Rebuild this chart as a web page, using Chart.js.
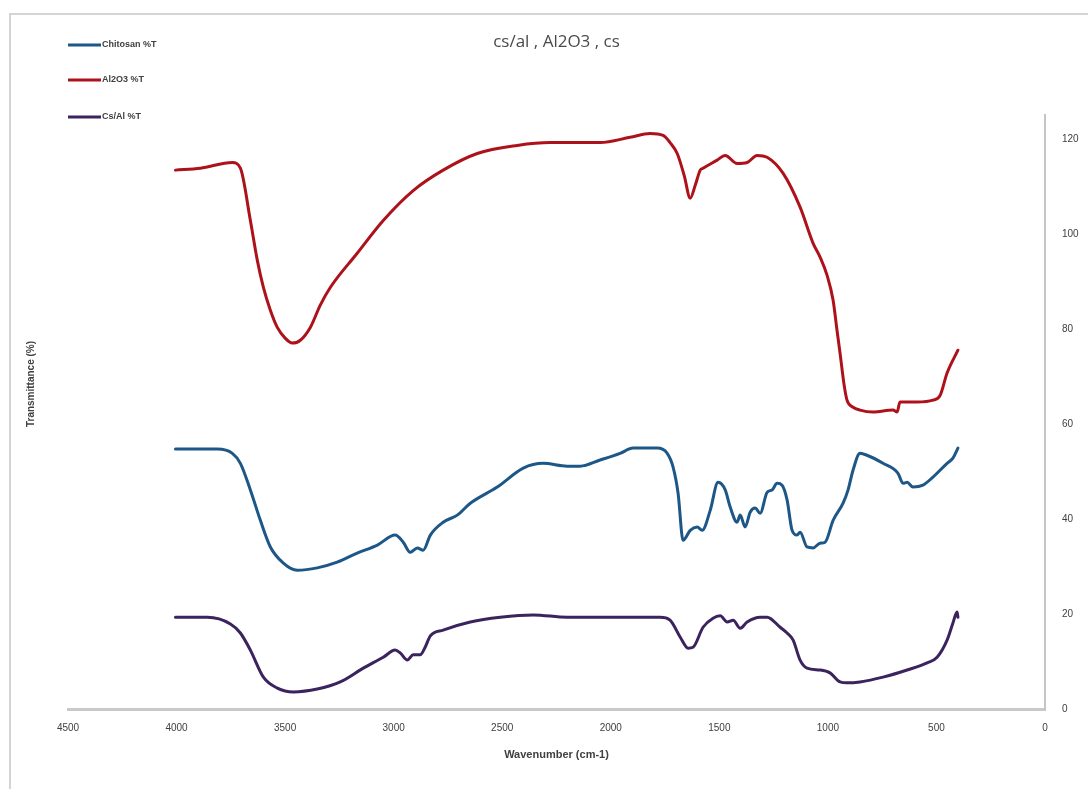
<!DOCTYPE html>
<html>
<head>
<meta charset="utf-8">
<script src="https://cdn.jsdelivr.net/npm/chart.js@4/dist/chart.umd.min.js"></script>
<style>
  html, body { margin: 0; padding: 0; background: #ffffff; }
  #wrap { width: 1088px; height: 789px; position: relative; }
</style>
</head>
<body>
<div id="wrap"><canvas id="ftir" width="1088" height="789"></canvas></div>
<script>
// FTIR spectra: wavenumber (cm-1) and transmittance (%) for each sample
const chartTitle = 'cs/al , Al2O3 , cs';
const xAxisTitle = 'Wavenumber (cm-1)';
const yAxisTitle = 'Transmittance (%)';
const seriesNames = ['Chitosan %T', 'Al2O3 %T', 'Cs/Al %T'];
const xTicks = [4500, 4000, 3500, 3000, 2500, 2000, 1500, 1000, 500, 0];
const yTicks = [0, 20, 40, 60, 80, 100, 120];

const chitosanWn = [4005, 3812, 3743, 3706, 3660, 3614, 3568, 3508, 3444, 3352, 3260, 3168, 3075, 2993, 2956, 2924, 2891, 2864, 2831, 2772, 2707, 2647, 2523, 2403, 2311, 2201, 2141, 2049, 1957, 1897, 1786, 1740, 1713, 1690, 1667, 1634, 1602, 1579, 1542, 1506, 1473, 1450, 1418, 1404, 1381, 1358, 1335, 1312, 1280, 1257, 1234, 1211, 1188, 1165, 1142, 1128, 1096, 1068, 1036, 1013, 976, 930, 907, 884, 852, 820, 746, 677, 654, 635, 608, 562, 516, 451, 424, 401];
const chitosanT = [54.7, 54.7, 53.8, 51.7, 46.1, 39.7, 34.1, 30.7, 29.2, 29.7, 30.9, 32.8, 34.5, 36.6, 35.1, 33.0, 33.9, 33.4, 36.6, 39.3, 40.8, 43.3, 46.7, 50.7, 51.7, 51.1, 51.1, 52.4, 53.8, 54.9, 54.9, 53.8, 50.9, 45.4, 35.5, 37.6, 38.3, 37.6, 41.8, 47.7, 46.1, 42.5, 39.3, 40.8, 38.3, 41.4, 42.3, 41.2, 45.6, 46.1, 47.5, 47.1, 44.0, 37.6, 36.6, 37.2, 34.1, 33.9, 34.9, 35.1, 39.7, 43.3, 46.1, 50.3, 53.8, 53.4, 51.7, 49.6, 47.5, 47.7, 46.7, 47.1, 48.8, 51.7, 52.8, 54.9];

const aluminaWn = [4005, 3890, 3743, 3706, 3660, 3628, 3600, 3568, 3536, 3499, 3467, 3430, 3384, 3338, 3292, 3168, 3048, 2910, 2772, 2615, 2431, 2279, 2049, 1911, 1819, 1759, 1727, 1694, 1662, 1634, 1611, 1588, 1575, 1510, 1473, 1418, 1372, 1326, 1280, 1206, 1128, 1068, 1036, 1004, 976, 958, 944, 925, 912, 884, 852, 792, 700, 681, 668, 589, 516, 483, 451, 401];
const aluminaT = [113.4, 113.8, 115.0, 113.8, 102.8, 94.4, 88.7, 83.9, 80.3, 78.0, 77.0, 77.6, 80.3, 85.0, 88.7, 95.9, 102.8, 109.1, 113.4, 116.9, 118.6, 119.2, 119.2, 120.3, 121.1, 120.7, 119.2, 116.9, 112.3, 107.5, 110.2, 113.4, 113.8, 115.5, 116.5, 114.8, 115.0, 116.5, 116.1, 112.7, 105.6, 98.0, 95.1, 91.3, 86.0, 79.7, 74.9, 68.1, 65.0, 63.5, 62.9, 62.5, 62.9, 62.5, 64.6, 64.6, 65.0, 66.0, 70.7, 75.5];

const csAlWn = [4005, 3858, 3752, 3706, 3660, 3600, 3536, 3462, 3352, 3246, 3140, 3048, 2993, 2970, 2937, 2910, 2878, 2855, 2831, 2772, 2647, 2509, 2357, 2201, 2049, 1773, 1727, 1680, 1644, 1621, 1575, 1529, 1496, 1464, 1436, 1404, 1372, 1312, 1280, 1220, 1188, 1160, 1128, 1096, 1036, 990, 944, 912, 852, 746, 635, 543, 497, 451, 424, 405, 401];
const csAlT = [19.3, 19.3, 17.9, 16.0, 12.4, 6.7, 4.4, 3.6, 4.2, 5.7, 8.6, 10.9, 12.4, 11.8, 10.3, 11.4, 11.4, 13.0, 15.4, 16.6, 18.3, 19.3, 19.8, 19.3, 19.3, 19.3, 18.7, 15.1, 12.8, 13.0, 17.2, 19.1, 19.6, 18.3, 18.7, 17.0, 18.3, 19.3, 19.3, 17.2, 16.0, 14.5, 10.3, 8.6, 8.2, 7.6, 5.7, 5.5, 5.7, 6.7, 8.2, 9.7, 10.9, 14.5, 18.1, 20.4, 19.3];

const seriesColors = ['#1d5787', '#ad121b', '#3b235e'];

function toPoints(xs, ys) {
  return xs.map((x, i) => ({ x: x, y: ys[i] }));
}

// Frame, title, vertical legend and left-hand axis caption
const decorations = {
  id: 'decorations',
  beforeDraw(chart) {
    const ctx = chart.ctx;
    ctx.save();
    ctx.fillStyle = '#ffffff';
    ctx.fillRect(0, 0, chart.width, chart.height);
    ctx.strokeStyle = '#d4d4d4';
    ctx.lineWidth = 2;
    ctx.beginPath();
    ctx.moveTo(10, chart.height + 5);
    ctx.lineTo(10, 14);
    ctx.lineTo(chart.width + 5, 14);
    ctx.stroke();
    ctx.restore();
  },
  afterDraw(chart) {
    const ctx = chart.ctx;
    const area = chart.chartArea;
    ctx.save();
    // title
    ctx.fillStyle = '#4a4a4a';
    ctx.font = '17px "Open Sans", "Liberation Sans", sans-serif';
    ctx.textAlign = 'center';
    ctx.textBaseline = 'middle';
    ctx.fillText(chartTitle, (area.left + area.right) / 2, 42);
    // legend
    const rows = [45, 80, 117];
    ctx.font = 'bold 9px "Liberation Sans", Arial, sans-serif';
    ctx.textAlign = 'left';
    chart.data.datasets.forEach((ds, i) => {
      ctx.strokeStyle = ds.borderColor;
      ctx.lineWidth = 3;
      ctx.beginPath();
      ctx.moveTo(68, rows[i]);
      ctx.lineTo(101, rows[i]);
      ctx.stroke();
      ctx.fillStyle = '#404040';
      ctx.fillText(ds.label, 102, rows[i]);
    });
    // y-axis caption on the left
    ctx.translate(31, 384);
    ctx.rotate(-Math.PI / 2);
    ctx.textAlign = 'center';
    ctx.font = 'bold 10px "Liberation Sans", Arial, sans-serif';
    ctx.fillStyle = '#404040';
    ctx.fillText(yAxisTitle, 0, 0);
    ctx.restore();
  }
};

new Chart(document.getElementById('ftir'), {
  type: 'line',
  data: {
    datasets: [
      { label: seriesNames[0], data: toPoints(chitosanWn, chitosanT), borderColor: seriesColors[0] },
      { label: seriesNames[1], data: toPoints(aluminaWn, aluminaT), borderColor: seriesColors[1] },
      { label: seriesNames[2], data: toPoints(csAlWn, csAlT), borderColor: seriesColors[2] }
    ]
  },
  options: {
    responsive: false,
    animation: false,
    devicePixelRatio: 1,
    layout: { padding: { left: 68, right: 0, top: 115, bottom: 0 } },
    elements: {
      point: { radius: 0 },
      line: { borderWidth: 3, cubicInterpolationMode: 'monotone', fill: false, borderJoinStyle: 'round', borderCapStyle: 'round' }
    },
    plugins: {
      legend: { display: false },
      title: { display: false },
      tooltip: { enabled: false }
    },
    scales: {
      x: {
        type: 'linear',
        reverse: true,
        min: 0,
        max: 4500,
        afterFit(scale) { scale.height = 80; },
        afterBuildTicks(scale) { scale.ticks = xTicks.map(v => ({ value: v })); },
        grid: { display: false, drawTicks: false },
        border: { display: true, color: '#c9c9c9', width: 3 },
        ticks: {
          padding: 13,
          maxRotation: 0,
          autoSkip: false,
          color: '#404040',
          callback: (v) => String(v),
          font: { family: '"Liberation Sans Narrow", "Liberation Sans", sans-serif', size: 10 }
        },
        title: {
          display: true,
          text: xAxisTitle,
          color: '#404040',
          padding: { top: 0, bottom: 27 },
          font: { family: '"Liberation Sans", Arial, sans-serif', size: 11, weight: 'bold' }
        }
      },
      y: {
        type: 'linear',
        position: 'right',
        min: 0,
        max: 125,
        afterFit(scale) { scale.width = 43; },
        afterBuildTicks(scale) { scale.ticks = yTicks.map(v => ({ value: v })); },
        grid: { display: false, drawTicks: false },
        border: { display: true, color: '#c4c4c4', width: 2 },
        ticks: {
          padding: 17,
          color: '#404040',
          callback: (v) => String(v),
          font: { family: '"Liberation Sans", Arial, sans-serif', size: 10 }
        }
      }
    }
  },
  plugins: [decorations]
});
</script>
</body>
</html>
